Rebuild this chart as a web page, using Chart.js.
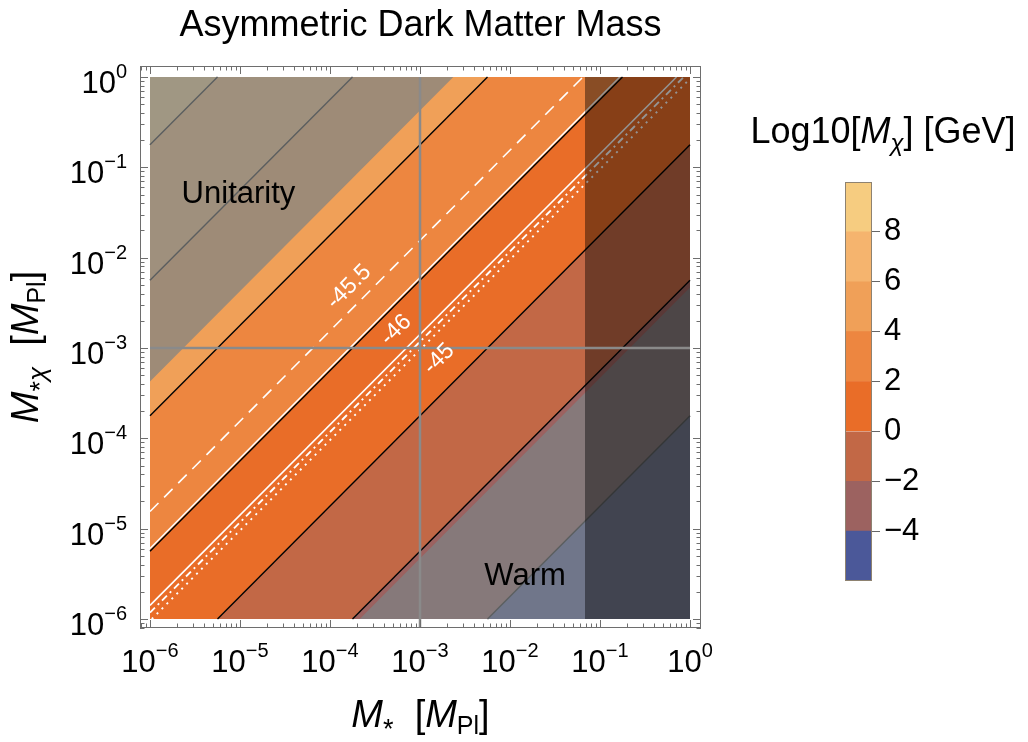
<!DOCTYPE html>
<html>
<head>
<meta charset="utf-8">
<script src="https://cdn.jsdelivr.net/npm/chart.js@4.4.1/dist/chart.umd.min.js"></script>
<style>
  html, body { margin: 0; padding: 0; background: #fff; }
  #wrap { position: relative; width: 1028px; height: 742px; }
  #main { position: absolute; left: 0; top: 0; width: 1028px; height: 742px; }
  #bar { position: absolute; left: 740px; top: 100px; width: 288px; height: 520px; }
</style>
</head>
<body>
<div id="wrap">
  <div id="main"><canvas id="plot"></canvas></div>
  <div id="bar"><canvas id="legend"></canvas></div>
</div>
<script>
// ---- values ----
// Log10[Mχ/GeV] contour levels, and where each one sits as log10(M*χ / M*)
const contourLevels  = [-4, -2, 0, 2, 4, 6, 8];
const contourOffsets = [-3.75, -2.25, -0.75, 0.75, 2.25, 3.75, 5.25];

// colour bands of the bar legend
const bandEdges  = [-6, -4, -2, 0, 2, 4, 6, 8, 10];
const bandColors = ['#4b5899', '#9c6260', '#c26846', '#e96d28', '#ed8640', '#f0a058', '#f5b46e', '#f6cc80'];
const legendTicks = [-4, -2, 0, 2, 4, 6, 8];

// white cross-section contours, log10(M*χ / M*)
const sigmaOffsets = [1.19, 0.78, 0.15, 0.07, -0.02];
const sigmaLabels  = ['-45.5', '-46', '-45'];

// excluded regions
const unitarityOffset = 2.63;   // above this line
const warmOffset = -2.33;       // below this line
const heavyMstar = 0.068;       // M* above this
const refMass = 1e-3;           // gray guide lines

const decades = [-6, -5, -4, -3, -2, -1, 0];

// ---- geometry helpers ----
const SANS = '"Liberation Sans", Arial, Helvetica, sans-serif';
const LO = -6, HI = 0;          // log10 range of the data square
const clampLog = v => Math.min(HI, Math.max(LO, v));
const lgHeavy = Math.log10(heavyMstar);

// shared x positions for every filled edge so the fills meet exactly
const brk = new Set([LO, HI, lgHeavy]);
[...contourOffsets, unitarityOffset, warmOffset].forEach(c => {
  [LO - c, HI - c].forEach(v => { if (v > LO && v < HI) brk.add(v); });
});
const gridLog = [...brk].sort((a, b) => a - b);

function edgePoints(c, fromLog) {
  const start = fromLog === undefined ? LO : fromLog;
  return gridLog.filter(lx => lx >= start - 1e-9)
    .map(lx => ({ x: 10 ** lx, y: 10 ** clampLog(lx + c) }));
}
function segPoints(c) {
  const a = Math.max(LO, LO - c), b = Math.min(HI, HI - c);
  return [{ x: 10 ** a, y: 10 ** (a + c) }, { x: 10 ** b, y: 10 ** (b + c) }];
}

// ---- datasets ----
const ds = [];
function add(o) {
  ds.push(Object.assign({
    type: 'line', pointRadius: 0, pointHoverRadius: 0, tension: 0,
    fill: false, borderWidth: 0, borderColor: 'rgba(0,0,0,0)'
  }, o));
  return ds.length - 1;
}

// colour bands between neighbouring contours
const edgeOffsets = [LO - HI, ...contourOffsets, HI - LO];
const edgeIdx = edgeOffsets.map(c => add({ data: edgePoints(c), order: 100 }));
edgeIdx.slice(0, -1).forEach((idx, i) => {
  ds[idx].fill = edgeIdx[i + 1];
  ds[idx].backgroundColor = bandColors[i];
});

// black contour lines
contourOffsets.forEach(c => add({ data: segPoints(c), borderColor: '#000', borderWidth: 1.4, order: 60 }));

// white lines
const sigmaDash = [[12, 8], [], [], [7, 4, 2, 4], [2, 5]];
const sigmaWidth = [1.6, 1.5, 1.6, 1.9, 1.9];
sigmaOffsets.forEach((c, i) => add({
  data: segPoints(c), borderColor: '#fff', borderWidth: sigmaWidth[i], borderDash: sigmaDash[i], order: 55
}));

// shaded regions
const veil = 'rgba(126,130,132,0.72)';
add({ data: edgePoints(unitarityOffset), fill: edgeIdx[edgeIdx.length - 1], backgroundColor: veil, order: 40 });
add({ data: edgePoints(warmOffset), fill: edgeIdx[0], backgroundColor: veil, order: 39 });
const heavyBottom = add({ data: edgePoints(LO - HI, lgHeavy), order: 30 });
add({ data: edgePoints(HI - LO, lgHeavy), fill: heavyBottom, backgroundColor: 'rgba(0,0,0,0.42)', order: 30 });

// gray guide lines at 10^-3
const yMin = 10 ** -6.1, yMax = 10 ** 0.122;
add({ data: [{ x: refMass, y: 10 ** HI }, { x: refMass, y: yMin }], borderColor: '#8a8a8a', borderWidth: 2.5, order: 10 });
add({ data: [{ x: 10 ** LO, y: refMass }, { x: 10 ** HI, y: refMass }], borderColor: '#8a8a8a', borderWidth: 2.5, order: 10 });

// ---- text helpers ----
function runs(ctx, parts, x, y, align) {
  let w = 0;
  parts.forEach(p => { ctx.font = p[1]; w += ctx.measureText(p[0]).width; });
  let cx = align === 'center' ? x - w / 2 : align === 'right' ? x - w : x;
  ctx.textAlign = 'left';
  ctx.textBaseline = 'alphabetic';
  parts.forEach(p => {
    ctx.font = p[1];
    ctx.fillText(p[0], cx, y + (p[2] || 0));
    cx += ctx.measureText(p[0]).width;
  });
}
const f = (size, style) => (style ? style + ' ' : '') + size + 'px ' + SANS;
const expParts = n => n === 0
  ? [['10', f(31)], ['0', f(20), -15]]
  : [['10', f(31)], ['\u2212' + Math.abs(n), f(20), -15]];

const decor = {
  id: 'decor',
  afterDatasetsDraw(chart, args, opts) {
    const { ctx, scales: { x, y } } = chart;
    const px = lx => x.getPixelForValue(10 ** lx);
    const py = ly => y.getPixelForValue(10 ** ly);
    ctx.save();
    ctx.fillStyle = '#000';
    ctx.font = f(31);
    ctx.textAlign = 'center';
    ctx.textBaseline = 'alphabetic';
    opts.regions.forEach(r => ctx.fillText(r.text, px(r.at[0]), py(r.at[1])));
    ctx.fillStyle = '#fff';
    ctx.font = f(23);
    ctx.textBaseline = 'middle';
    sigmaLabels.forEach((t, i) => {
      const at = opts.sigmaAt[i];
      ctx.save();
      ctx.translate(px(at[0]), py(at[1]));
      ctx.rotate(-Math.PI / 4);
      ctx.fillText(t, 0, 0);
      ctx.restore();
    });
    ctx.restore();
  },
  afterDraw(chart) {
    const { ctx, chartArea: a, scales: { x, y } } = chart;
    ctx.save();
    // frame
    ctx.strokeStyle = '#6e6e6e';
    ctx.lineWidth = 1;
    ctx.strokeRect(a.left + 0.5, a.top + 0.5, a.right - a.left - 1, a.bottom - a.top - 1);
    // inward ticks on all four sides
    ctx.beginPath();
    for (let n = -7; n <= 0; n++) {
      for (let k = 1; k <= 9; k++) {
        const v = k * 10 ** n;
        const len = k === 1 ? 8 : 4.5;
        if (v >= x.min && v <= x.max) {
          const X = Math.round(x.getPixelForValue(v)) + 0.5;
          ctx.moveTo(X, a.bottom); ctx.lineTo(X, a.bottom - len);
          ctx.moveTo(X, a.top); ctx.lineTo(X, a.top + len);
        }
        if (v >= y.min && v <= y.max) {
          const Y = Math.round(y.getPixelForValue(v)) + 0.5;
          ctx.moveTo(a.left, Y); ctx.lineTo(a.left + len, Y);
          ctx.moveTo(a.right, Y); ctx.lineTo(a.right - len, Y);
        }
      }
    }
    ctx.stroke();
    // tick labels
    ctx.fillStyle = '#000';
    x.ticks.forEach(t => runs(ctx, expParts(Math.round(Math.log10(t.value))), x.getPixelForValue(t.value), a.bottom + 44, 'center'));
    y.ticks.forEach(t => runs(ctx, expParts(Math.round(Math.log10(t.value))), a.left - 13, y.getPixelForValue(t.value) + 16, 'right'));
    // axis titles
    const axX = [['M', f(38, 'italic')], ['*', f(27), 11], ['  [', f(38)], ['M', f(38, 'italic')], ['Pl', f(25), 7], [']', f(38)]];
    runs(ctx, axX, (a.left + a.right) / 2, 727, 'center');
    const axY = [['M', f(38, 'italic')], ['*', f(27), 11], ['\u03c7', f(26, 'italic'), 8], ['  [', f(38)], ['M', f(38, 'italic')], ['Pl', f(25), 7], [']', f(38)]];
    ctx.save();
    ctx.translate(38, (a.top + a.bottom) / 2);
    ctx.rotate(-Math.PI / 2);
    runs(ctx, axY, 0, 0, 'center');
    ctx.restore();
    // title
    runs(ctx, [['Asymmetric Dark Matter Mass', f(36)]], (a.left + a.right) / 2, 36, 'center');
    ctx.restore();
  }
};

new Chart(document.getElementById('plot'), {
  type: 'line',
  data: { datasets: ds },
  options: {
    responsive: true,
    maintainAspectRatio: false,
    animation: false,
    events: [],
    layout: { padding: { top: 66, right: 327, bottom: 0, left: 0 } },
    plugins: {
      legend: { display: false },
      tooltip: { enabled: false },
      decor: {
        regions: [{ text: 'Unitarity', at: [-5.017, -1.395] }, { text: 'Warm', at: [-1.833, -5.624] }],
        sigmaAt: [[-3.789, -2.325], [-3.267, -2.801], [-2.789, -3.122]]
      }
    },
    scales: {
      x: {
        type: 'logarithmic', min: 10 ** -6.111, max: 10 ** 0.122, bounds: 'data',
        afterBuildTicks: s => { s.ticks = decades.map(d => ({ value: 10 ** d })); },
        ticks: { display: false }, grid: { display: false }, border: { display: false },
        afterFit: s => { s.height = 114; }
      },
      y: {
        type: 'logarithmic', min: yMin, max: yMax, bounds: 'data',
        afterBuildTicks: s => { s.ticks = decades.map(d => ({ value: 10 ** d })); },
        ticks: { display: false }, grid: { display: false }, border: { display: false },
        afterFit: s => { s.width = 140; }
      }
    }
  },
  plugins: [decor]
});

// ---- colour bar legend ----
const barFrame = {
  id: 'barFrame',
  afterDraw(chart) {
    const { ctx, chartArea: a } = chart;
    ctx.save();
    ctx.strokeStyle = '#8e8270';
    ctx.lineWidth = 1;
    ctx.strokeRect(a.left + 0.5, a.top + 0.5, a.right - a.left - 1, a.bottom - a.top - 1);
    ctx.fillStyle = '#000';
    runs(ctx, [['Log10[', f(36)], ['M', f(36, 'italic')], ['\u03c7', f(24, 'italic'), 8], ['] [GeV]', f(36)]], 143, 43, 'center');
    ctx.restore();
  }
};

new Chart(document.getElementById('legend'), {
  type: 'bar',
  data: {
    labels: [''],
    datasets: bandColors.map((c, i) => ({
      data: [[bandEdges[i], bandEdges[i + 1]]],
      backgroundColor: c, borderWidth: 0, barPercentage: 1, categoryPercentage: 1
    }))
  },
  options: {
    responsive: true,
    maintainAspectRatio: false,
    animation: false,
    events: [],
    layout: { padding: { left: 105, top: 82, bottom: 39, right: 0 } },
    plugins: { legend: { display: false }, tooltip: { enabled: false } },
    scales: {
      x: { display: false, stacked: true },
      y: {
        position: 'right', min: -6, max: 10,
        afterBuildTicks: s => { s.ticks = legendTicks.map(v => ({ value: v })); },
        grid: { drawOnChartArea: false, drawTicks: true, tickLength: 8, color: '#666', tickColor: '#666' },
        border: { display: false },
        ticks: {
          color: '#000', padding: 4, font: { family: SANS, size: 31 },
          callback: v => (v < 0 ? '\u2212' + Math.abs(v) : String(v))
        },
        afterFit: s => { s.width = 156; }
      }
    }
  },
  plugins: [barFrame]
});
</script>
</body>
</html>
